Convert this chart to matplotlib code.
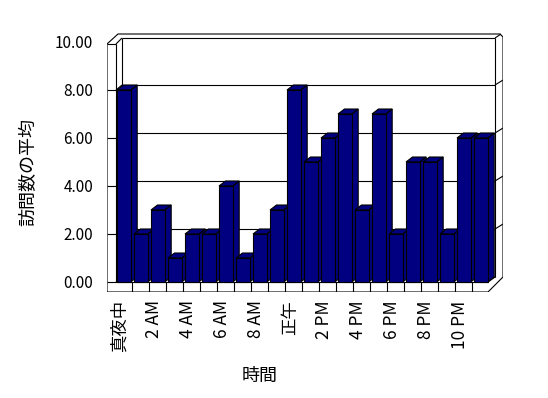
import matplotlib
matplotlib.use("Agg")
import matplotlib.pyplot as plt
from matplotlib.patches import Polygon

# データ
hour_labels = ['真夜中', '', '2 AM', '', '4 AM', '', '6 AM', '', '8 AM', '', '正午', '',
               '2 PM', '', '4 PM', '', '6 PM', '', '8 PM', '', '10 PM', '']
visits = [8, 2, 3, 1, 2, 2, 4, 1, 2, 3, 8, 5, 6, 7, 3, 7, 2, 5, 5, 2, 6, 6]
y_ticks = [0, 2, 4, 6, 8, 10]

plt.rcParams['font.family'] = ['Noto Sans CJK JP', 'DejaVu Sans']

NAVY = '#000080'
LW = 0.8
BAR_W = 0.806          # 前面の幅 (カテゴリ単位)
DX, DY = 0.382, 0.208  # 奥行きのずれ


def P(x, y):
    # 画像のピクセル位置 -> データ座標 (枠の描画用)
    return ((x - 117) / 17, (282 - y) / 24)


fig = plt.figure(figsize=(5.48, 3.98), dpi=100)
ax = fig.add_axes([107 / 548, (398 - 292) / 398, 396 / 548, 259 / 398])
x0, _ = P(107, 0)
x1, _ = P(503, 0)
_, y0 = P(0, 292)
_, y1 = P(0, 33)
ax.set_xlim(x0, x1)
ax.set_ylim(y0, y1)
for s in ax.spines.values():
    s.set_visible(False)


def line(a, b, z=1):
    ax.plot([a[0], b[0]], [a[1], b[1]], color='black', lw=LW, zorder=z,
            solid_capstyle='butt')


# 外枠
outer = [P(107, 292), P(107, 44), P(118, 34), P(500, 34), P(503, 37),
         P(503, 277), P(488, 292)]
ax.add_patch(Polygon(outer, closed=True, facecolor='white', edgecolor='black',
                     lw=LW, zorder=0.5))

# 壁と床
line(P(107, 44), P(116, 44))
line(P(116, 44), P(116, 282))
line(P(116, 44), P(122, 38))
line(P(122, 38), P(495, 38))
line(P(122, 38), P(122, 277))
line(P(495, 38), P(495, 277))
line(P(495, 38), P(501, 34))
line(P(107, 282), P(488, 282))
line(P(116, 282), P(122, 277))
line(P(122, 277), P(495, 277))
line(P(488, 282), P(495, 277))
for k in range(1, len(visits)):
    line((k - 0.1, y0), (k - 0.1, 0))

# 目盛線
for v in y_ticks[1:-1]:
    line((x0, v), (P(116, 0)[0], v))
    line((P(116, 0)[0], v), (P(122, 0)[0], v + DY))
    line((P(122, 0)[0], v + DY), (P(495, 0)[0], v + DY))
    line((P(495, 0)[0], v + DY), (x1, v + 2 * DY))

# 3D 棒
idx = list(range(len(visits)))
bars = ax.bar(idx, visits, width=BAR_W, align='edge', color=NAVY,
              edgecolor='black', linewidth=LW)
for i, (rect, v) in enumerate(zip(bars, visits)):
    base = 3 + i * 0.1
    rect.set_zorder(base + 0.05)
    xl, xr = i, i + BAR_W
    top = [(xl, v), (xr, v), (xr + DX, v + DY), (xl + DX, v + DY)]
    side = [(xr, 0), (xr, v), (xr + DX, v + DY), (xr + DX, DY)]
    for poly in (side, top):
        ax.add_patch(Polygon(poly, closed=True, facecolor=NAVY,
                             edgecolor='black', lw=LW, zorder=base))

# 軸ラベル
ax.set_yticks(y_ticks)
ax.set_yticklabels([f'{t:.2f}' for t in y_ticks], fontsize=11)
ax.tick_params(axis='y', length=0, pad=10)
ax.set_xticks([i + 0.18 for i in idx])
ax.set_xticklabels(hour_labels, rotation=90, fontsize=12.5)
ax.tick_params(axis='x', length=0, pad=6)

ax.set_ylabel('訪問数の平均', fontsize=13)
ax.yaxis.set_label_coords(-0.177, 0.463)
ax.set_xlabel('時間', fontsize=13)
ax.xaxis.set_label_coords(0.386, -0.29)

fig.savefig('out.png', dpi=100)
